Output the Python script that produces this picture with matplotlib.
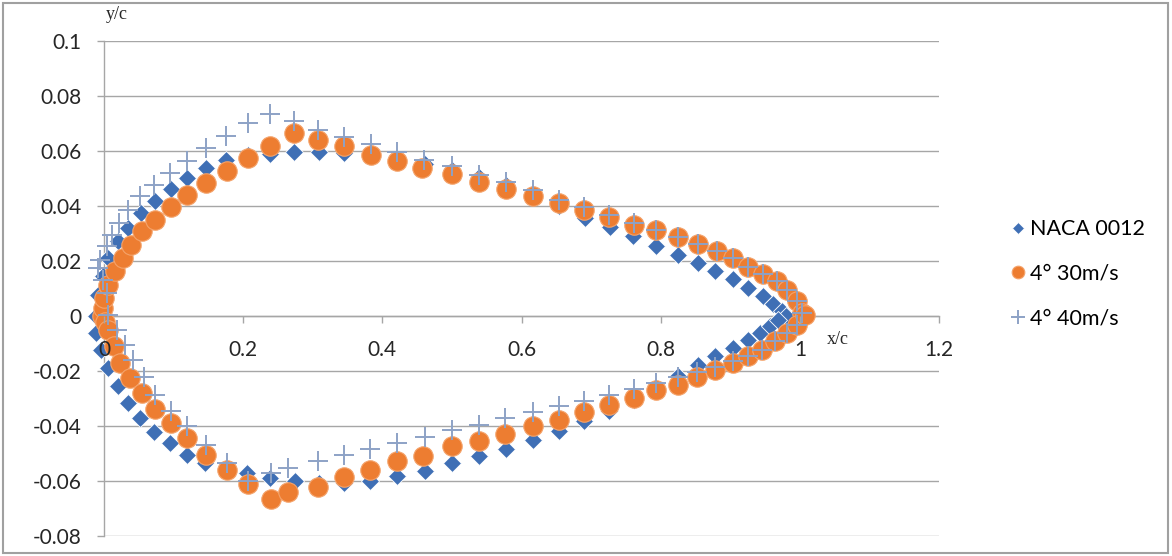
import matplotlib
matplotlib.use('Agg')
import matplotlib.pyplot as plt
from matplotlib.patches import Rectangle
from matplotlib.ticker import FuncFormatter

# NACA 0012 (diamonds), upper then lower surface
naca_up_x = [-0.0110, -0.0080, -0.0020, 0.0062, 0.0206, 0.0350, 0.0530, 0.0733, 0.0963, 0.1197,
             0.1466, 0.1750, 0.2065, 0.2390, 0.2735, 0.3087, 0.3455, 0.3833, 0.4218, 0.4608,
             0.5000, 0.5392, 0.5782, 0.6167, 0.6545, 0.6913, 0.7270, 0.7607, 0.7930, 0.8245,
             0.8530, 0.8780, 0.9045, 0.9260, 0.9476, 0.9620, 0.9740, 0.9800]
naca_up_y = [0.0, 0.0075, 0.0145, 0.0211, 0.0271, 0.0320, 0.0375, 0.0419, 0.0462, 0.0502,
             0.0538, 0.0567, 0.0584, 0.0588, 0.0597, 0.0598, 0.0592, 0.0583, 0.0568, 0.0552,
             0.0532, 0.0506, 0.0475, 0.0440, 0.0400, 0.0355, 0.0322, 0.0290, 0.0255, 0.0223,
             0.0193, 0.0163, 0.0133, 0.0103, 0.0072, 0.0043, 0.0018, 0.0]
naca_lo_x = [-0.0110, -0.0040, 0.0060, 0.0206, 0.0350, 0.0517, 0.0723, 0.0949, 0.1188, 0.1452,
             0.1753, 0.2050, 0.2386, 0.2745, 0.3087, 0.3455, 0.3823, 0.4206, 0.4610, 0.4997,
             0.5390, 0.5780, 0.6170, 0.6540, 0.6900, 0.7260, 0.7610, 0.7930, 0.8245, 0.8530,
             0.8780, 0.9045, 0.9260, 0.9430, 0.9570, 0.9690]
naca_lo_y = [-0.0060, -0.0125, -0.0190, -0.0256, -0.0316, -0.0371, -0.0420, -0.0462, -0.0504, -0.0536,
             -0.0555, -0.0571, -0.0590, -0.0600, -0.0607, -0.0607, -0.0601, -0.0583, -0.0565, -0.0535,
             -0.0508, -0.0484, -0.0450, -0.0417, -0.0383, -0.0347, -0.0304, -0.0262, -0.0217, -0.0177,
             -0.0147, -0.0116, -0.0086, -0.0062, -0.0038, -0.0013]

# 4 deg, 30 m/s (circles)
c30_up_x = [-0.003, -0.002, 0.0, 0.0062, 0.0158, 0.0268, 0.0388, 0.0541, 0.0733, 0.0963,
            0.1197, 0.1466, 0.1763, 0.2065, 0.2390, 0.2735, 0.3070, 0.3450, 0.3837, 0.4206,
            0.4566, 0.4997, 0.5390, 0.5780, 0.6160, 0.6540, 0.6900, 0.7260, 0.7610, 0.7930,
            0.8245, 0.8530, 0.8810, 0.9045, 0.9260, 0.9470, 0.9667, 0.9810, 0.9955, 1.0030]
c30_up_y = [0.0, 0.0029, 0.0065, 0.0114, 0.0162, 0.0211, 0.0259, 0.0308, 0.0350, 0.0395,
            0.0441, 0.0484, 0.0528, 0.0575, 0.0620, 0.0665, 0.0641, 0.0617, 0.0587, 0.0562,
            0.0538, 0.0516, 0.0488, 0.0462, 0.0437, 0.0412, 0.0387, 0.0360, 0.0332, 0.0311,
            0.0287, 0.0263, 0.0235, 0.0211, 0.0180, 0.0154, 0.0126, 0.0096, 0.0053, 0.0011]
c30_lo_x = [0.0020, 0.0060, 0.0138, 0.0230, 0.0374, 0.0541, 0.0733, 0.0963, 0.1188, 0.1466,
            0.1763, 0.2065, 0.2396, 0.2640, 0.3070, 0.3450, 0.3823, 0.4206, 0.4590, 0.4997,
            0.5390, 0.5760, 0.6170, 0.6540, 0.6900, 0.7260, 0.7610, 0.7930, 0.8245, 0.8520,
            0.8780, 0.9045, 0.9260, 0.9450, 0.9640, 0.9810, 0.9955, 1.0070]
c30_lo_y = [-0.0020, -0.0050, -0.0110, -0.0171, -0.0225, -0.0280, -0.0337, -0.0389, -0.0444, -0.0504,
            -0.0559, -0.0611, -0.0665, -0.0640, -0.0620, -0.0587, -0.0559, -0.0529, -0.0510, -0.0474,
            -0.0456, -0.0428, -0.0401, -0.0377, -0.0350, -0.0322, -0.0298, -0.0268, -0.0250, -0.0220,
            -0.0195, -0.0171, -0.0147, -0.0123, -0.0092, -0.0062, -0.0032, 0.0005]

# 4 deg, 40 m/s (plus)
c40_up_x = [0.0060, 0.0050, -0.0020, -0.0080, -0.0057, 0.0039, 0.0110, 0.0216, 0.0350, 0.0517,
            0.0723, 0.0949, 0.1188, 0.1466, 0.1753, 0.2065, 0.2386, 0.2735, 0.3070, 0.3450,
            0.3837, 0.4206, 0.4600, 0.4997, 0.5390, 0.5780, 0.6160, 0.6540, 0.6900, 0.7260,
            0.7610, 0.7930, 0.8245, 0.8530, 0.8810, 0.9045, 0.9260, 0.9470, 0.9667, 0.9810,
            0.9955, 1.0030]
c40_up_y = [0.0005, 0.0084, 0.0130, 0.0175, 0.0205, 0.0253, 0.0296, 0.0338, 0.0387, 0.0435,
            0.0477, 0.0520, 0.0565, 0.0610, 0.0655, 0.0700, 0.0734, 0.0709, 0.0677, 0.0652,
            0.0627, 0.0596, 0.0568, 0.0544, 0.0514, 0.0487, 0.0460, 0.0423, 0.0396, 0.0368,
            0.0338, 0.0314, 0.0287, 0.0263, 0.0235, 0.0211, 0.0180, 0.0154, 0.0126, 0.0096,
            0.0053, 0.0011]
c40_lo_x = [0.0180, 0.0300, 0.0420, 0.0580, 0.0733, 0.0963, 0.1188, 0.1466, 0.1763, 0.2065,
            0.2396, 0.2640, 0.3070, 0.3450, 0.3823, 0.4206, 0.4610, 0.4997, 0.5390, 0.5760,
            0.6170, 0.6540, 0.6900, 0.7260, 0.7610, 0.7930, 0.8245, 0.8520, 0.8780, 0.9045,
            0.9260, 0.9450, 0.9640, 0.9810, 0.9955]
c40_lo_y = [-0.0050, -0.0104, -0.0159, -0.0220, -0.0286, -0.0347, -0.0401, -0.0468, -0.0535, -0.0601,
            -0.0571, -0.0553, -0.0529, -0.0504, -0.0483, -0.0462, -0.0440, -0.0413, -0.0395, -0.0371,
            -0.0350, -0.0329, -0.0310, -0.0286, -0.0265, -0.0244, -0.0220, -0.0205, -0.0185, -0.0165,
            -0.0147, -0.0123, -0.0092, -0.0062, -0.0032]

labels = ['NACA 0012', '4° 30m/s', '4° 40m/s']
x_ticks = [0, 0.2, 0.4, 0.6, 0.8, 1.0, 1.2]
y_ticks = [-0.08, -0.06, -0.04, -0.02, 0, 0.02, 0.04, 0.06, 0.08, 0.1]

blue = '#3F6FB5'
orange = '#ED7D31'
plus_c = '#8DA2C6'
grid_c = '#A6A6A6'

plt.rcParams['font.family'] = ['Lato', 'DejaVu Sans']

fig = plt.figure(figsize=(11.72, 5.56), dpi=100)
ax = fig.add_axes([104/1172, 1 - 536/556, 835/1172, 495/556])

ax.plot(naca_up_x + naca_lo_x, naca_up_y + naca_lo_y, 'D', color=blue, ms=9.5,
        mec='white', mew=0.6, label=labels[0], clip_on=False, zorder=3)
ax.plot(c30_up_x + c30_lo_x, c30_up_y + c30_lo_y, 'o', color=orange, ms=14,
        mec='#F4A36B', mew=0.8, label=labels[1], clip_on=False, zorder=4)
ax.plot(c40_up_x + c40_lo_x, c40_up_y + c40_lo_y, '+', color=plus_c, ms=14.5,
        mew=1.4, label=labels[2], clip_on=False, zorder=5)

ax.set_xlim(0, 1.2)
ax.set_ylim(-0.08, 0.1)
ax.set_xticks(x_ticks)
ax.set_yticks(y_ticks)
ax.xaxis.set_major_formatter(FuncFormatter(lambda v, p: '%g' % round(v, 2)))
ax.yaxis.set_major_formatter(FuncFormatter(lambda v, p: '%g' % round(v, 2)))

for s in ['top', 'right']:
    ax.spines[s].set_visible(False)
ax.spines['bottom'].set_position(('data', 0))
ax.spines['left'].set_position(('data', 0))
for s in ['bottom', 'left']:
    ax.spines[s].set_color(grid_c)
    ax.spines[s].set_linewidth(1.0)

ax.yaxis.grid(True, color=grid_c, lw=1.0)
ax.set_axisbelow(True)
# x tick labels sit on top of the markers, like the "0" at the leading edge
ax.xaxis.set_zorder(6)
ax.tick_params(axis='both', colors=grid_c, labelcolor='#262626', labelsize=15,
               length=5, width=1.0, direction='out')
ax.tick_params(axis='x', pad=12)
ax.tick_params(axis='y', pad=11)

ax.text(0.018, 0.1065, 'y/c', family='Liberation Serif', fontsize=13,
        ha='center', va='bottom', color='#262626')
ax.text(1.054, -0.0085, 'x/c', family='Liberation Serif', fontsize=13,
        ha='center', va='center', color='#262626')

leg = fig.legend(loc='center left', bbox_to_anchor=(1001/1172, 1 - 274/556), frameon=False,
                 fontsize=15.5, markerscale=0.65, handletextpad=0.15, handlelength=0.8,
                 labelspacing=1.15, borderaxespad=0)

fig.patches.append(Rectangle((3/1172, 3/556), 1165/1172, 550/556, transform=fig.transFigure,
                             fill=False, ec='#A0A0A0', lw=1.5))

fig.savefig('out.png', dpi=100)
